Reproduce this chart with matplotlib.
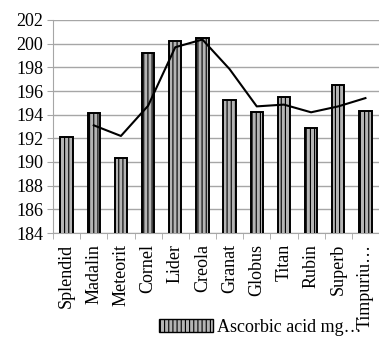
import matplotlib

matplotlib.use("Agg")
import matplotlib.pyplot as plt
import numpy as np
from matplotlib.patches import Patch

# Values
varieties = ["Splendid", "Madalin", "Meteorit", "Cornel", "Lider", "Creola",
             "Granat", "Globus", "Titan", "Rubin", "Superb", "Timpuriu…"]
ascorbic = [192.1, 194.1, 190.3, 199.2, 200.2, 200.5,
            195.2, 194.2, 195.5, 192.9, 196.5, 194.3]
# trend line (2-period moving average), starts at second category
trend = [None, 193.1, 192.2, 194.75, 199.7, 200.35,
         197.85, 194.7, 194.85, 194.2, 194.7, 195.4]

plt.rcParams["font.family"] = ["Liberation Serif", "DejaVu Serif"]
plt.rcParams["hatch.linewidth"] = 0.8
plt.rcParams["hatch.color"] = "#6e6e6e"

fig = plt.figure(figsize=(3.79, 3.42), dpi=100)
ax = fig.add_axes([53 / 379, 1 - 233 / 342, 326 / 379, 213 / 342])

x = np.arange(len(varieties))
ax.bar(x, ascorbic, width=0.45, bottom=0, color="#b4b4b4", edgecolor="black",
       linewidth=1.4, hatch="||||", zorder=3)

tx = [i for i, v in enumerate(trend) if v is not None]
ty = [v for v in trend if v is not None]
ax.plot(tx, ty, color="black", linewidth=1.5, zorder=4)

ax.set_ylim(184, 202)
ax.set_yticks(np.arange(184, 203, 2))
ax.set_xlim(-0.5, len(varieties) - 0.5)
ax.yaxis.grid(True, color="#a6a6a6", linewidth=1)
ax.set_axisbelow(True)

for s in ["top", "right"]:
    ax.spines[s].set_visible(False)
ax.spines["left"].set_color("#a6a6a6")
ax.spines["bottom"].set_color("#a6a6a6")

ax.set_xticks(x)
ax.set_xticklabels(varieties, rotation=90, fontsize=13)
ax.set_xticks(np.arange(-0.5, len(varieties)), minor=True)
ax.tick_params(axis="x", which="major", length=0, pad=8)
ax.tick_params(axis="x", which="minor", length=4, color="#a6a6a6")
ax.tick_params(axis="y", length=4, color="#a6a6a6", labelsize=13, pad=3)

handle = Patch(facecolor="#b4b4b4", edgecolor="black", hatch="||||", linewidth=1)
fig.legend([handle], ["Ascorbic acid mg…"], loc="center", bbox_to_anchor=(260 / 379, 1 - 327 / 342),
           frameon=False, fontsize=13, handlelength=3.0, handleheight=0.7, handletextpad=0.2)

plt.savefig("out.png", dpi=100)
plt.close()
